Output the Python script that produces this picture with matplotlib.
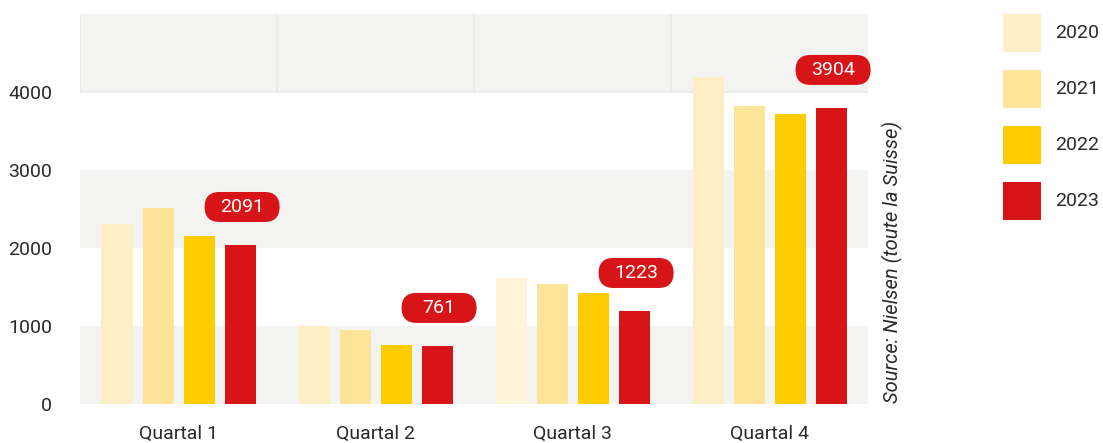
import matplotlib
matplotlib.use("Agg")
import matplotlib.pyplot as plt
from matplotlib.patches import Rectangle, FancyBboxPatch
from matplotlib.offsetbox import DrawingArea, AnnotationBbox
from matplotlib.text import Text
import numpy as np

plt.rcParams['font.family'] = ['Roboto', 'DejaVu Sans']

quarters = ["Quartal 1", "Quartal 2", "Quartal 3", "Quartal 4"]
years = ["2020", "2021", "2022", "2023"]
v2020 = [2308, 1004, 1615, 4192]
v2021 = [2513, 949, 1538, 3821]
v2022 = [2154, 756, 1423, 3722]
v2023 = [2038, 744, 1192, 3795]
labels_2023 = ["2091", "761", "1223", "3904"]
y_ticks = [0, 1000, 2000, 3000, 4000]

colors = ["#FEEEC6", "#FEE499", "#FFCC00", "#D71418"]
bg = "#F3F3F1"
txt = "#2A2A2A"

W, H = 1103, 443
fig = plt.figure(figsize=(W / 100, H / 100), dpi=100)
ax = fig.add_axes([80 / W, (H - 404) / H, 788 / W, 390 / H])

x = np.arange(len(quarters))
ax.set_xlim(-0.5, 3.5)
ax.set_ylim(0, 5000)

# background bands
for lo in (0, 2000, 4000):
    ax.axhspan(lo, lo + 1000, color=bg, lw=0, zorder=0)
lc = "#E9E9E7"
ax.plot([-0.5, 3.5], [4000, 4000], color=lc, lw=1.2, zorder=0.5)
ax.plot([-0.5, -0.5], [4000, 5000], color=lc, lw=1.2, zorder=0.5)
for b in (0.5, 1.5, 2.5):
    ax.plot([b, b], [4000, 5000], color=lc, lw=1.2, zorder=0.5)

step = 41 / 197
width = 31 / 197
series = [v2020, v2021, v2022, v2023]
for i, vals in enumerate(series):
    cols = [colors[i]] * len(vals)
    if i == 0:
        cols[2] = "#FFF4DA"
    ax.bar(x + (i - 1.5) * step, vals, width=width, color=cols, lw=0, zorder=2)

# value pills above 2023 bars
pw, ph = 54, 21.6
for xi, v, lab in zip(x + 1.5 * step, v2023, labels_2023):
    da = DrawingArea(pw, ph, 0, 0)
    da.add_artist(FancyBboxPatch((0, 0), pw, ph,
                                 boxstyle=f"round,pad=0,rounding_size={ph/2}",
                                 fc="#D71418", ec="none"))
    da.add_artist(Text(pw / 2, ph / 2, lab, color="white", fontsize=14,
                       ha="center", va="center"))
    ab = AnnotationBbox(da, (xi, v), xybox=(1.5, 27.4), boxcoords="offset points",
                        frameon=False, box_alignment=(0.5, 0.5), pad=0,
                        zorder=5, annotation_clip=False)
    ax.add_artist(ab)

ax.set_xticks(x)
ax.set_xticklabels(quarters, fontsize=14, color=txt)
ax.set_yticks(y_ticks)
ax.set_yticklabels([str(t) for t in y_ticks], fontsize=14, color=txt)
ax.tick_params(axis="x", length=0, pad=15)
ax.tick_params(axis="y", length=0, pad=20)
for s in ax.spines.values():
    s.set_visible(False)

# source text
fig.text(892 / W, (H - 403) / H, "Source: Nielsen (toute la Suisse)",
         rotation=90, ha="center", va="bottom", fontsize=14.5, style="italic",
         color=txt)

# legend
for i, (yr, c) in enumerate(zip(years, colors)):
    top = 14 + 56 * i
    fig.add_artist(Rectangle((1003 / W, (H - top - 38) / H), 38 / W, 38 / H,
                             transform=fig.transFigure, color=c, lw=0))
    fig.text(1055 / W, (H - top - 19) / H, yr, ha="left", va="center",
             fontsize=14, color=txt)

fig.savefig("out.png", dpi=100)
